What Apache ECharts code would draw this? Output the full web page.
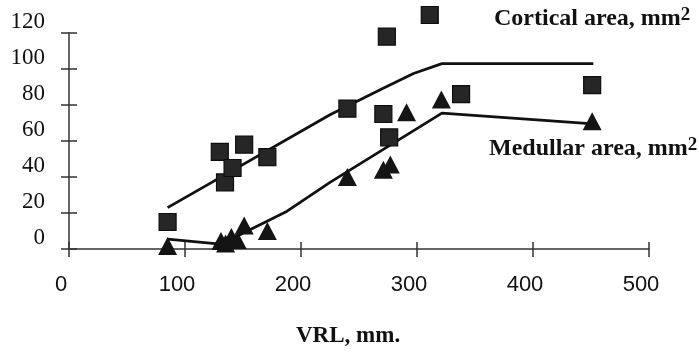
<!DOCTYPE html>
<html>
<head>
<meta charset="utf-8">
<script src="https://cdn.jsdelivr.net/npm/echarts@6/dist/echarts.min.js"></script>
<style>html,body{margin:0;padding:0;background:#fff}#c{width:699px;height:354px}</style>
</head>
<body>
<div id="c"></div>
<script>
// Cortical area (squares)
var cortX = [85, 130, 134.5, 141, 151, 171, 240, 271, 274, 276, 311, 338, 451];
var cortY = [15, 54, 37, 45, 58, 51, 78, 75, 118, 62, 130, 86, 91];
// Medullar area (triangles)
var medX = [85, 131, 135, 140, 145, 151, 171, 240, 271, 277, 291, 321, 451];
var medY = [1.7, 4.5, 3, 6.7, 5, 13, 10, 40, 44, 47, 76, 83, 71];
// Fitted curves
var fitCX = [85, 225, 270, 297, 321.5, 452];
var fitCY = [23, 74.6, 89, 97.5, 103, 103];
var fitMX = [85, 126, 143, 188, 225, 321.5, 452];
var fitMY = [5.5, 3, 6.5, 21, 37, 75.5, 69.5];
var xTicks = [0, 100, 200, 300, 400, 500];
var yTicks = [0, 20, 40, 60, 80, 100, 120];

function pairs(xs, ys) { return xs.map(function (x, i) { return [x, ys[i]]; }); }

var chart = echarts.init(document.getElementById('c'), null, {renderer: 'canvas'});
var axisCol = '#333';
var baseX = {
  type: 'value', min: xTicks[0], max: xTicks[xTicks.length - 1], interval: 100,
  position: 'bottom', splitLine: {show: false},
  axisLine: {lineStyle: {color: axisCol, width: 1.5}}
};
var baseY = {
  type: 'value', min: yTicks[0], max: yTicks[yTicks.length - 1], interval: 20,
  position: 'left', splitLine: {show: false},
  axisLine: {lineStyle: {color: axisCol, width: 1.5}}
};
var richLbl = {
  a: {fontFamily: 'Liberation Serif', fontWeight: 'bold', fontSize: 24, fill: '#111'},
  s: {fontFamily: 'Liberation Serif', fontWeight: 'bold', fontSize: 19, fill: '#111', verticalAlign: 'top', padding: [0, 0, 6, 0]}
};
chart.setOption({
  animation: false,
  backgroundColor: '#fff',
  grid: {left: 69, right: 50, top: 33, bottom: 105, containLabel: false},
  xAxis: [
    Object.assign({}, baseX, {
      axisTick: {show: true, inside: false, length: 8, lineStyle: {color: axisCol, width: 1.5}},
      axisLabel: {show: true, margin: 25, color: '#111', fontFamily: 'Liberation Sans', fontSize: 22,
        padding: [0, 16, 0, 0]}
    }),
    Object.assign({}, baseX, {
      axisLine: {show: false},
      axisTick: {show: true, inside: true, length: 7, lineStyle: {color: axisCol, width: 1.5}},
      axisLabel: {show: false}
    })
  ],
  yAxis: [
    Object.assign({}, baseY, {
      axisTick: {show: true, inside: false, length: 8, lineStyle: {color: axisCol, width: 1.5}},
      axisLabel: {show: true, margin: 24, color: '#111', fontFamily: 'Liberation Serif', fontSize: 23,
        verticalAlign: 'bottom', lineHeight: 23}
    }),
    Object.assign({}, baseY, {
      axisLine: {show: false},
      axisTick: {show: true, inside: true, length: 8, lineStyle: {color: axisCol, width: 1.5}},
      axisLabel: {show: false}
    })
  ],
  series: [
    {type: 'line', data: pairs(fitCX, fitCY), symbol: 'none',
      lineStyle: {color: '#111', width: 2.8}, z: 2},
    {type: 'line', data: pairs(fitMX, fitMY), symbol: 'none',
      lineStyle: {color: '#111', width: 2.8}, z: 2},
    {type: 'scatter', data: pairs(cortX, cortY), symbol: 'rect', symbolSize: 17, clip: false,
      itemStyle: {color: '#262626', borderColor: '#0d0d0d', borderWidth: 1.2, opacity: 1}, z: 3},
    {type: 'scatter', data: pairs(medX, medY), symbol: 'triangle', symbolSize: [19, 18], clip: false,
      itemStyle: {color: '#141414', opacity: 1}, z: 3}
  ],
  graphic: [
    {type: 'text', left: 494, top: 6, style: {text: '{a|Cortical area, mm}{s|2}', rich: richLbl}},
    {type: 'text', left: 489, top: 136, style: {text: '{a|Medullar area, mm}{s|2}', rich: richLbl}},
    {type: 'text', left: 296, top: 325, style: {
      text: 'VRL, mm.', fontFamily: 'Liberation Serif', fontWeight: 'bold', fontSize: 23, fill: '#111'}}
  ]
});
</script>
</body>
</html>
